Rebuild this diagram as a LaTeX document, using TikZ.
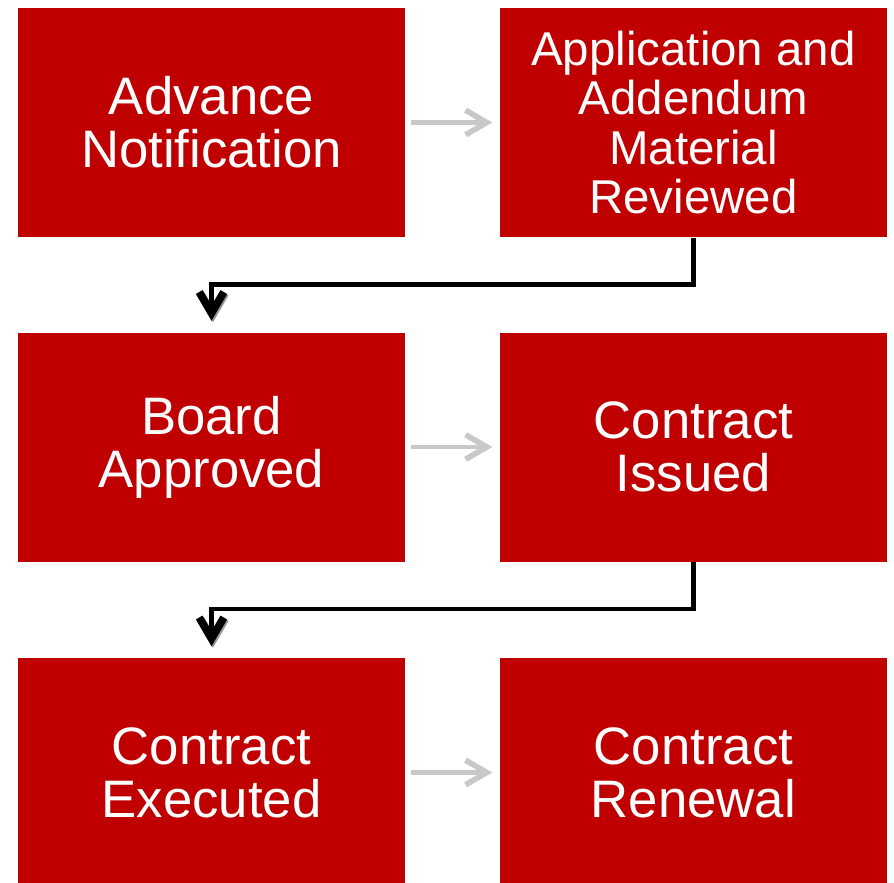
\documentclass[tikz,border=0pt]{standalone}
\usepackage{fontspec}
\setmainfont{Liberation Sans}
\usepackage{tikz}
\usetikzlibrary{arrows.meta}
\definecolor{boxred}{RGB}{192,0,0}
\definecolor{arrowgray}{RGB}{200,200,200}

\begin{document}
\begin{tikzpicture}
\tikzstyle{stage}=[fill=boxred,text=white,inner sep=0pt,minimum width=3.87cm,minimum height=2.29cm,align=center,font=\fontsize{15}{15.1}\selectfont]
\tikzstyle{next}=[arrowgray,line width=1.4pt,-{Straight Barb[length=6pt,width=7pt,line width=1.6pt]},shorten <=0.05cm,shorten >=0.07cm]
\tikzstyle{turn}=[black,line width=1.3pt,-{Straight Barb[length=6pt,width=7pt,line width=2.2pt]},shorten >=0.11cm,preaction={draw=black!40,transform canvas={shift={(0.015,-0.015)}}}]
\useasboundingbox (0,0) rectangle (8.94,-8.83);
\node [stage] (advance) at (2.115,-1.225) {Advance\\Notification};
\node [stage,font=\fontsize{13.5}{14}\selectfont] (review) at (6.935,-1.225) {Application and\\Addendum\\Material\\Reviewed};
\node [stage] (board) at (2.115,-4.47) {Board\\Approved};
\node [stage] (issued) at (6.935,-4.47) {Contract\\Issued};
\node [stage] (executed) at (2.115,-7.725) {Contract\\Executed};
\node [stage] (renewal) at (6.935,-7.725) {Contract\\Renewal};
\draw [next] (advance) -- (review);
\draw [next] (board) -- (issued);
\draw [next] (executed) -- (renewal);
\draw [turn] (review.south) -- ++(0,-0.47) -| (board.north);
\draw [turn] (issued.south) -- ++(0,-0.47) -| (executed.north);
\end{tikzpicture}
\end{document}
